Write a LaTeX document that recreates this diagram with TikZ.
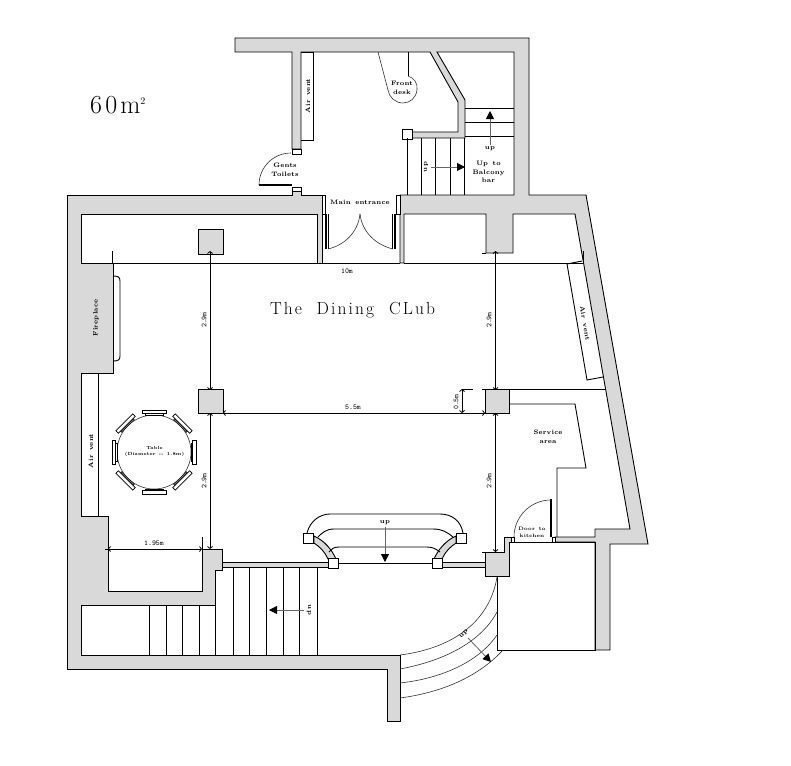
\documentclass[tikz,border=0pt]{standalone}
\usepackage{fontspec}
\usetikzlibrary{arrows.meta}
\newfontfamily\labfont[LetterSpace=3,WordSpace=1.4]{Latin Modern Roman}
\newfontfamily\bigfont[LetterSpace=12,WordSpace=2]{Latin Modern Roman}
\definecolor{wallgray}{HTML}{D9D9D9}
\tikzset{
  wall/.style={draw=black,fill=wallgray,line width=0.9pt,line join=miter},
  ln/.style={draw=black,line width=0.9pt},
  thin line/.style={draw=black!80,line width=0.6pt},
  sq/.style={draw=black,fill=white,line width=0.9pt,minimum size=10pt,inner sep=0pt,outer sep=0pt},
  leaf/.style={draw=black,line width=2.4pt},
  flow/.style={draw=black!60,line width=0.8pt,-{Triangle[length=8pt,width=8pt,color=black]}},
  lab/.style={font=\fontsize{6.4}{8.8}\labfont\bfseries,inner sep=0pt,align=center},
  tiny lab/.style={font=\fontsize{4.9}{7}\labfont\bfseries,inner sep=0pt,align=center},
  table lab/.style={font=\fontsize{4.4}{6.8}\labfont\bfseries,inner sep=0pt,align=center},
  dimlab/.style={font=\fontsize{7.5}{8}\selectfont\ttfamily,inner sep=0pt},
  dim/.style={draw=black,line width=0.8pt,{Straight Barb[length=2pt,width=5pt]}-{Straight Barb[length=2pt,width=5pt]}},
  title/.style={font=\fontsize{17.5}{18}\bigfont,inner sep=0pt,anchor=base},
  chairp/.style={draw=black,fill=white,line width=0.7pt}
}
\begin{document}
\begin{tikzpicture}[x=1pt,y=-1pt]
\useasboundingbox (0,0) rectangle (791,765);
% main walls
\path[wall] (235,38)--(529,38)--(529,195)--(586,195)--(648,544)--(610,544)--(610,650)--(595,650)--(595,542)--(555,542)--(555,537)--(595,537)--(595,529)--(630,529)--(575,214)--(513,214)--(513,253)--(486,253)--(486,214)--(404,214)--(404,263)--(400,263)--(400,195)--(514,195)--(514,52)--(437,52)--(465,100)--(465,138)--(412,138)--(412,132)--(458,132)--(458,102)--(430,52)--(301,52)--(301,149)--(292,149)--(292,52)--(235,52)--cycle;
\path[wall] (322,195)--(301,195)--(301,191)--(292,191)--(292,195)--(67,195)--(67,669)--(387,669)--(387,721)--(400,721)--(400,655)--(81,655)--(81,605)--(215,605)--(215,570)--(222,570)--(222,549)--(202,549)--(202,591)--(108,591)--(108,516)--(81,516)--(81,373)--(113,373)--(113,263)--(81,263)--(81,214)--(317,214)--(317,263)--(322,263)--cycle;
% pillars
\path[wall] (198,229) rectangle (223,254);
\path[wall] (198,389) rectangle (223,413);
\path[wall] (485,389) rectangle (509,413);
\path[wall] (485,552)--(504,552)--(504,537)--(514,537)--(514,542)--(509,542)--(509,576)--(485,576)--cycle;
\path[ln] (482,253)--(486,253) (482,389)--(485,389) (482,413)--(485,413) (482,552)--(485,552);
% jambs near gents toilets
\path[ln,fill=white] (292,149) rectangle (301,154);
\path[ln,fill=white] (292,187) rectangle (301,191);
% air vents
\path[ln] (301,52)--(313,52)--(313,140)--(301,140);
\path[ln] (98,373)--(98,516);
\path[ln] (567,264)--(582,261);
\path[ln] (567,264)--(587,380)--(603,377);
% long dimension line continuing the wall
\path[ln] (113,263)--(317,263) (322,263)--(400,263) (404,263)--(583,263);
\path[ln] (112,251)--(112,263) (583,251)--(583,263);
% hearth
\path[ln] (113,276) .. controls (118,276) and (120,277) .. (120,281)--(120,356) .. controls (120,360) and (118,361) .. (113,361);
% main entrance
\node[lab] (mainentrance) at (360,202) {Main entrance};
\path[ln,fill=white] (322,195) rectangle (325,214);
\path[ln,fill=white] (396,195) rectangle (400,214);
\path[ln,line width=1.4pt] (326,214)--(326,249);
\path[ln] (328.5,214)--(328.5,249);
\path[ln,line width=1.4pt] (395,214)--(395,249);
\path[ln] (392.5,214)--(392.5,249);
\path[thin line] (328,249) .. controls (345,245) and (358,232) .. (360,214);
\path[thin line] (393,249) .. controls (376,245) and (362,232) .. (360,214);
% gents toilets
\path[leaf] (259,185)--(292,185);
\path[thin line] (259,185) arc[start angle=180,end angle=270,radius=32];
\node[lab] (gents) at (285,169.5) {Gents\\Toilets};
\node[lab,rotate=90] (airvent1) at (308,96) {Air vent};
% front desk
\path[thin line] (378,52)--(388,90);
\path[ln] (408,52)--(408,76);
\path[thin line] (408,76) .. controls (414,78) and (418,83) .. (417,90) .. controls (416,98) and (410,103) .. (403,103) .. controls (395,103) and (389,97) .. (388,90);
\node[lab] (frontdesk) at (402,87.5) {Front\\desk};
% upper stairs
\node[sq] (sqtop) at (407.5,134.5) {};
\foreach \x in {407,421,435,450,464}{\path[ln] (\x,138)--(\x,195);}
\foreach \y in {108,122,136}{\path[ln] (465,\y)--(514,\y);}
\node[lab,rotate=90] (upb) at (426,167) {up};
\coordinate (upa) at (431,167);
\coordinate (upah) at (465,167);
\path[flow] (upa)--(upah);
\node[lab] (upc) at (490,149) {up};
\coordinate (upca) at (490,145);
\coordinate (upcb) at (490,111);
\path[flow] (upca)--(upcb);
\node[lab] (balcony) at (488.5,172) {Up to\\Balcony\\bar};
\node[lab,rotate=-80] (airvent2) at (585,323) {Air vent};
% titles
\node[title] (titletext) at (352.5,314) {The Dining CLub};
\node[font=\fontsize{26}{26}\bigfont,inner sep=0pt,anchor=base west] (area) at (90,113.5) {60m\raisebox{9pt}{\fontsize{10}{10}\selectfont 2}};
% fireplace and table
\node[lab,rotate=90] (fire) at (96,318) {Fireplace};
\node[lab,rotate=90] (airvent3) at (91,451) {Air vent};
\draw[thin line] (154,452) circle[radius=37];
\foreach \a in {0,45,...,315}{
  \begin{scope}[shift={(154,452)},rotate=\a]
    \path[chairp] (37,-9) rectangle (38.5,9);
    \path[chairp] (38.5,-12) rectangle (42,12);
  \end{scope}
}
\node[table lab] (tablelab) at (154.5,451.5) {Table\\(Diameter -- 1.8m)};
% dimensions
\path[dim] (210,251)--(210,390);
\path[dim] (210,413)--(210,549);
\path[dim] (495.5,251)--(495.5,390);
\path[dim] (495.5,413)--(495.5,552);
\path[dim] (223,413)--(485,413);
\path[dim] (108,549)--(202,549);
\path[dim] (462,389)--(462,413);
\path[ln] (462,389)--(473,389) (509,389)--(605,389) (202,537)--(202,549) (105,549)--(108,549);
\path[ln] (509,404)--(575,404)--(586,468)--(557,468)--(557,537);
\node[dimlab,rotate=90] (d1) at (204,320) {2.9m};
\node[dimlab,rotate=90] (d2) at (204,481) {2.9m};
\node[dimlab,rotate=90] (d3) at (489,320) {2.9m};
\node[dimlab,rotate=90] (d4) at (489,481) {2.9m};
\node[dimlab] (d5) at (353,407) {5.5m};
\node[dimlab] (d6) at (154,543) {1.95m};
\node[dimlab] (d7) at (347,271) {10m};
\node[dimlab,rotate=90] (d8) at (456,402) {0.5m};
% service area and kitchen door
\node[lab] (service) at (548,437) {Service\\area};
\path[ln] (509,542)--(595,542);
\path[ln] (595,542)--(595,650)--(497,650)--(497,577);
\path[ln,fill=white] (511,537) rectangle (514,542);
\path[ln,fill=white] (552,537) rectangle (555,542);
\path[leaf] (551,537)--(551,499);
\path[thin line] (514,537) arc[start angle=180,end angle=270,radius=37];
\node[tiny lab] (kitchen) at (532,532.5) {Door to\\kitchen};
% gallery
\path[wall] (222,562) rectangle (328,567);
\path[wall] (442,562) rectangle (485,567);
\path[wall] (314,536) .. controls (325,541) and (332,550) .. (336,559)--(328,559) .. controls (325,552) and (320,547) .. (314,543)--cycle;
\path[wall] (456,536) .. controls (445,541) and (438,550) .. (434,559)--(442,559) .. controls (445,552) and (450,547) .. (456,543)--cycle;
\node[sq] (s1) at (308.5,538.5) {};
\node[sq] (s2) at (461.5,538.5) {};
\node[sq] (s3) at (333.5,563.5) {};
\node[sq] (s4) at (437,563.5) {};
\path[ln] (s3)--(s4);
\path[ln] (307,533) .. controls (310,521) and (320,514) .. (330,514)--(440,514) .. controls (452,514) and (461,521) .. (463,533);
\path[ln] (318,537) .. controls (322,533) and (326,529) .. (334,529)--(433,529) .. controls (442,529) and (447,532) .. (453,537);
\path[ln] (329,552) .. controls (331,549) and (334,547) .. (339,547)--(427,547) .. controls (433,547) and (436,549) .. (440,552);
\node[lab] (upg) at (385,523) {up};
\coordinate (upga) at (385,527);
\coordinate (upgb) at (385,562);
\path[flow] (upga)--(upgb);
% lower stairs
\foreach \x in {233,249,266,283,299,317}{\path[ln] (\x,567)--(\x,655);}
\foreach \x in {149,166,182,199,215}{\path[ln] (\x,605)--(\x,655);}
\node[lab,rotate=-90] (dnl) at (309,610) {up};
\coordinate (dna) at (304,610);
\coordinate (dnb) at (269,610);
\path[flow] (dna)--(dnb);
% curved stairs
\path[thin line] (400,655) .. controls (455,648) and (490,620) .. (497,577);
\path[thin line] (400,669) .. controls (448,660) and (482,640) .. (497,612);
\path[thin line] (400,683) .. controls (445,678) and (480,660) .. (497,635);
\path[thin line] (400,698) .. controls (445,692) and (480,675) .. (503,650);
\node[lab,rotate=45] (upr) at (464,634) {up};
\coordinate (ra) at (468,638);
\coordinate (rb) at (491,662);
\path[flow] (ra)--(rb);
\end{tikzpicture}
\end{document}
